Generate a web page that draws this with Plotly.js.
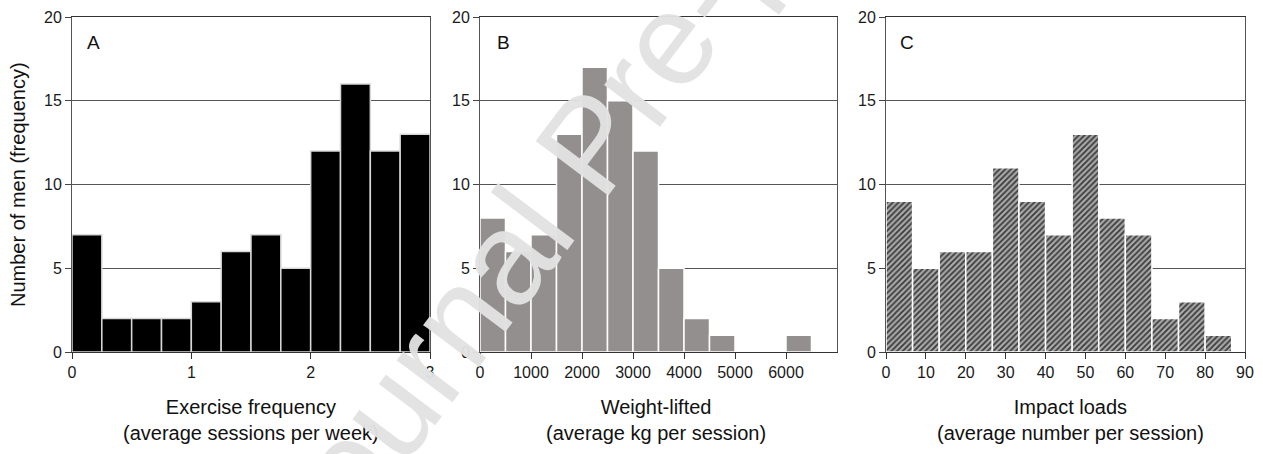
<!DOCTYPE html>
<html>
<head>
<meta charset="utf-8">
<script src="https://cdn.plot.ly/plotly-3.0.1.min.js"></script>
<style>html,body{margin:0;padding:0;background:#fff;}#chart{width:1263px;height:454px;}</style>
</head>
<body>
<div id="chart"></div>
<script>
// ---- Data ----
// Panel A: exercise frequency (average sessions per week), bin width 0.25
var exerciseBinStarts = [0, 0.25, 0.5, 0.75, 1.0, 1.25, 1.5, 1.75, 2.0, 2.25, 2.5, 2.75];
var exerciseBinWidth = 0.25;
var exerciseCounts = [7, 2, 2, 2, 3, 6, 7, 5, 12, 16, 12, 13];

// Panel B: weight-lifted (average kg per session), bin width 500
var weightBinStarts = [0, 500, 1000, 1500, 2000, 2500, 3000, 3500, 4000, 4500, 5000, 5500, 6000];
var weightBinWidth = 500;
var weightCounts = [8, 6, 7, 13, 17, 15, 12, 5, 2, 1, 0, 0, 1];

// Panel C: impact loads (average number per session), bin width 20/3
var impactBinWidth = 20 / 3;
var impactBinIndex = [0, 1, 2, 3, 4, 5, 6, 7, 8, 9, 10, 11, 12];
var impactCounts = [9, 5, 6, 6, 11, 9, 7, 13, 8, 7, 2, 3, 1];

var yTicks = [0, 5, 10, 15, 20];
var xTicksA = [0, 1, 2, 3];
var xTicksB = [0, 1000, 2000, 3000, 4000, 5000, 6000];
var xTicksC = [0, 10, 20, 30, 40, 50, 60, 70, 80, 90];

var panelLetters = ['A', 'B', 'C'];
var xTitles = [
  'Exercise frequency<br>(average sessions per week)',
  'Weight-lifted<br>(average kg per session)',
  'Impact loads<br>(average number per session)'
];
var yTitle = 'Number of men (frequency)';
var watermark = 'Journal Pre-proof';

// ---- Build ----
function centers(starts, w) { return starts.map(function (s) { return s + w / 2; }); }
var impactStarts = impactBinIndex.map(function (i) { return i * impactBinWidth; });

var traces = [
  {
    type: 'bar', x: centers(exerciseBinStarts, exerciseBinWidth), y: exerciseCounts,
    width: exerciseBinWidth, xaxis: 'x', yaxis: 'y',
    marker: { color: '#000000', line: { color: '#d8d8d8', width: 1.5 } },
    hoverinfo: 'skip'
  },
  {
    type: 'bar', x: centers(weightBinStarts, weightBinWidth), y: weightCounts,
    width: weightBinWidth, xaxis: 'x2', yaxis: 'y2',
    marker: { color: '#938f8e', line: { color: '#ffffff', width: 1.5 } },
    hoverinfo: 'skip'
  },
  {
    type: 'bar', x: centers(impactStarts, impactBinWidth), y: impactCounts,
    width: impactBinWidth, xaxis: 'x3', yaxis: 'y3',
    marker: {
      color: '#a9a9a9',
      line: { color: '#ffffff', width: 1.5 },
      pattern: { shape: '/', fgcolor: '#3a3a3a', bgcolor: '#a9a9a9', size: 4, solidity: 0.45 }
    },
    hoverinfo: 'skip'
  }
];

var W = 1263, H = 454;
var yDom = [1 - 352 / H, 1 - 17 / H];
var tickFont = { family: 'Liberation Sans, Arial, sans-serif', size: 16, color: '#1a1a1a' };

function xAxis(dom, range, tickvals, anchor) {
  return {
    domain: dom, range: range, tickvals: tickvals, anchor: anchor,
    showgrid: false, zeroline: false, showline: true, linecolor: '#333', linewidth: 1,
    mirror: true, ticks: 'outside', ticklen: 6, tickcolor: '#333', tickfont: tickFont
  };
}
function yAxis(anchor) {
  return {
    domain: yDom, range: [0, 20], tickvals: yTicks, anchor: anchor,
    showgrid: true, gridcolor: '#555555', gridwidth: 1, zeroline: false,
    showline: true, linecolor: '#555', linewidth: 1, mirror: true,
    ticks: 'outside', ticklen: 6, tickcolor: '#444', tickfont: tickFont
  };
}

var domA = [72 / W, 430 / W], domB = [480 / W, 837 / W], domC = [886 / W, 1245 / W];

var titleFont = { family: 'Liberation Sans, Arial, sans-serif', size: 20, color: '#111' };
var letterFont = { family: 'Liberation Sans, Arial, sans-serif', size: 19, color: '#111' };

var annotations = [];
var letterX = [93, 503, 907];
var titleX = [251, 656, 1070];
for (var i = 0; i < 3; i++) {
  annotations.push({
    xref: 'paper', yref: 'paper', x: letterX[i] / W, y: 1 - 43 / H,
    xanchor: 'center', yanchor: 'middle', text: panelLetters[i], showarrow: false, font: letterFont
  });
  annotations.push({
    xref: 'paper', yref: 'paper', x: titleX[i] / W, y: 1 - 394 / H,
    xanchor: 'center', yanchor: 'top', text: xTitles[i], showarrow: false, font: titleFont
  });
}
annotations.push({
  xref: 'paper', yref: 'paper', x: 18 / W, y: 1 - 185 / H,
  xanchor: 'center', yanchor: 'middle', textangle: -90, text: yTitle, showarrow: false, font: titleFont
});
annotations.push({
  xref: 'paper', yref: 'paper', x: 590 / W, y: 1 - 145 / H,
  xanchor: 'center', yanchor: 'middle', textangle: -53, text: watermark, showarrow: false,
  font: { family: 'Liberation Sans, Arial, sans-serif', size: 132, color: 'rgba(226,226,226,0.96)' }
});

var layout = {
  width: W, height: H,
  margin: { l: 0, r: 0, t: 0, b: 0, pad: 0 },
  paper_bgcolor: '#ffffff', plot_bgcolor: '#ffffff',
  showlegend: false, bargap: 0,
  xaxis: xAxis(domA, [0, 3], xTicksA, 'y'),
  yaxis: yAxis('x'),
  xaxis2: xAxis(domB, [0, 7000], xTicksB, 'y2'),
  yaxis2: yAxis('x2'),
  xaxis3: xAxis(domC, [0, 90], xTicksC, 'y3'),
  yaxis3: yAxis('x3'),
  annotations: annotations
};

Plotly.newPlot('chart', traces, layout, { staticPlot: true, displayModeBar: false });
</script>
</body>
</html>
